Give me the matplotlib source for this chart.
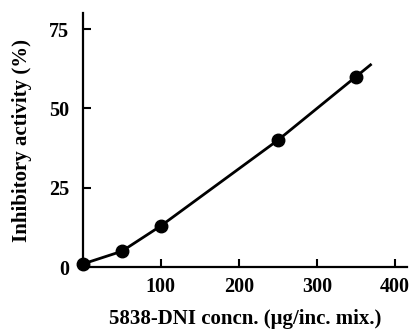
import matplotlib
matplotlib.use("Agg")
import matplotlib.pyplot as plt

# data
conc = [0, 50, 100, 250, 350]
activity = [1, 5, 13, 40, 60]
# drawn line runs a bit past the last point
line_conc = [0, 50, 100, 250, 350, 370]
line_act = [1, 5, 13, 40, 60, 64]

xticks = [100, 200, 300, 400]
yticks = [0, 25, 50, 75]

plt.rcParams['font.family'] = ['Liberation Serif', 'DejaVu Serif']
plt.rcParams['font.weight'] = 'bold'

fig = plt.figure(figsize=(4.1, 3.29), dpi=100)
ax = fig.add_axes([0.202, 0.188, 0.79, 0.772])

ax.plot(line_conc, line_act, color='black', lw=2.0, solid_capstyle='butt')
ax.plot(conc, activity, 'o', color='black', ms=9, clip_on=False)

ax.set_xlim(0, 415)
ax.set_ylim(0, 80)
ax.set_xticks(xticks)
ax.set_yticks(yticks)
ax.tick_params(direction='in', length=6, width=1.5, labelsize=14.5, pad=7)
ax.tick_params(axis='y', pad=10)
# no tick mark at zero on y axis
ax.yaxis.get_major_ticks()[0].tick1line.set_visible(False)

for s in ['top', 'right']:
    ax.spines[s].set_visible(False)
for s in ['left', 'bottom']:
    ax.spines[s].set_linewidth(1.6)

ax.set_xlabel('5838-DNI concn. (μg/inc. mix.)', fontsize=15, fontweight='bold', labelpad=9)
ax.set_ylabel('Inhibitory activity (%)', fontsize=15, fontweight='bold', labelpad=12)

fig.savefig('out.png', dpi=100)
